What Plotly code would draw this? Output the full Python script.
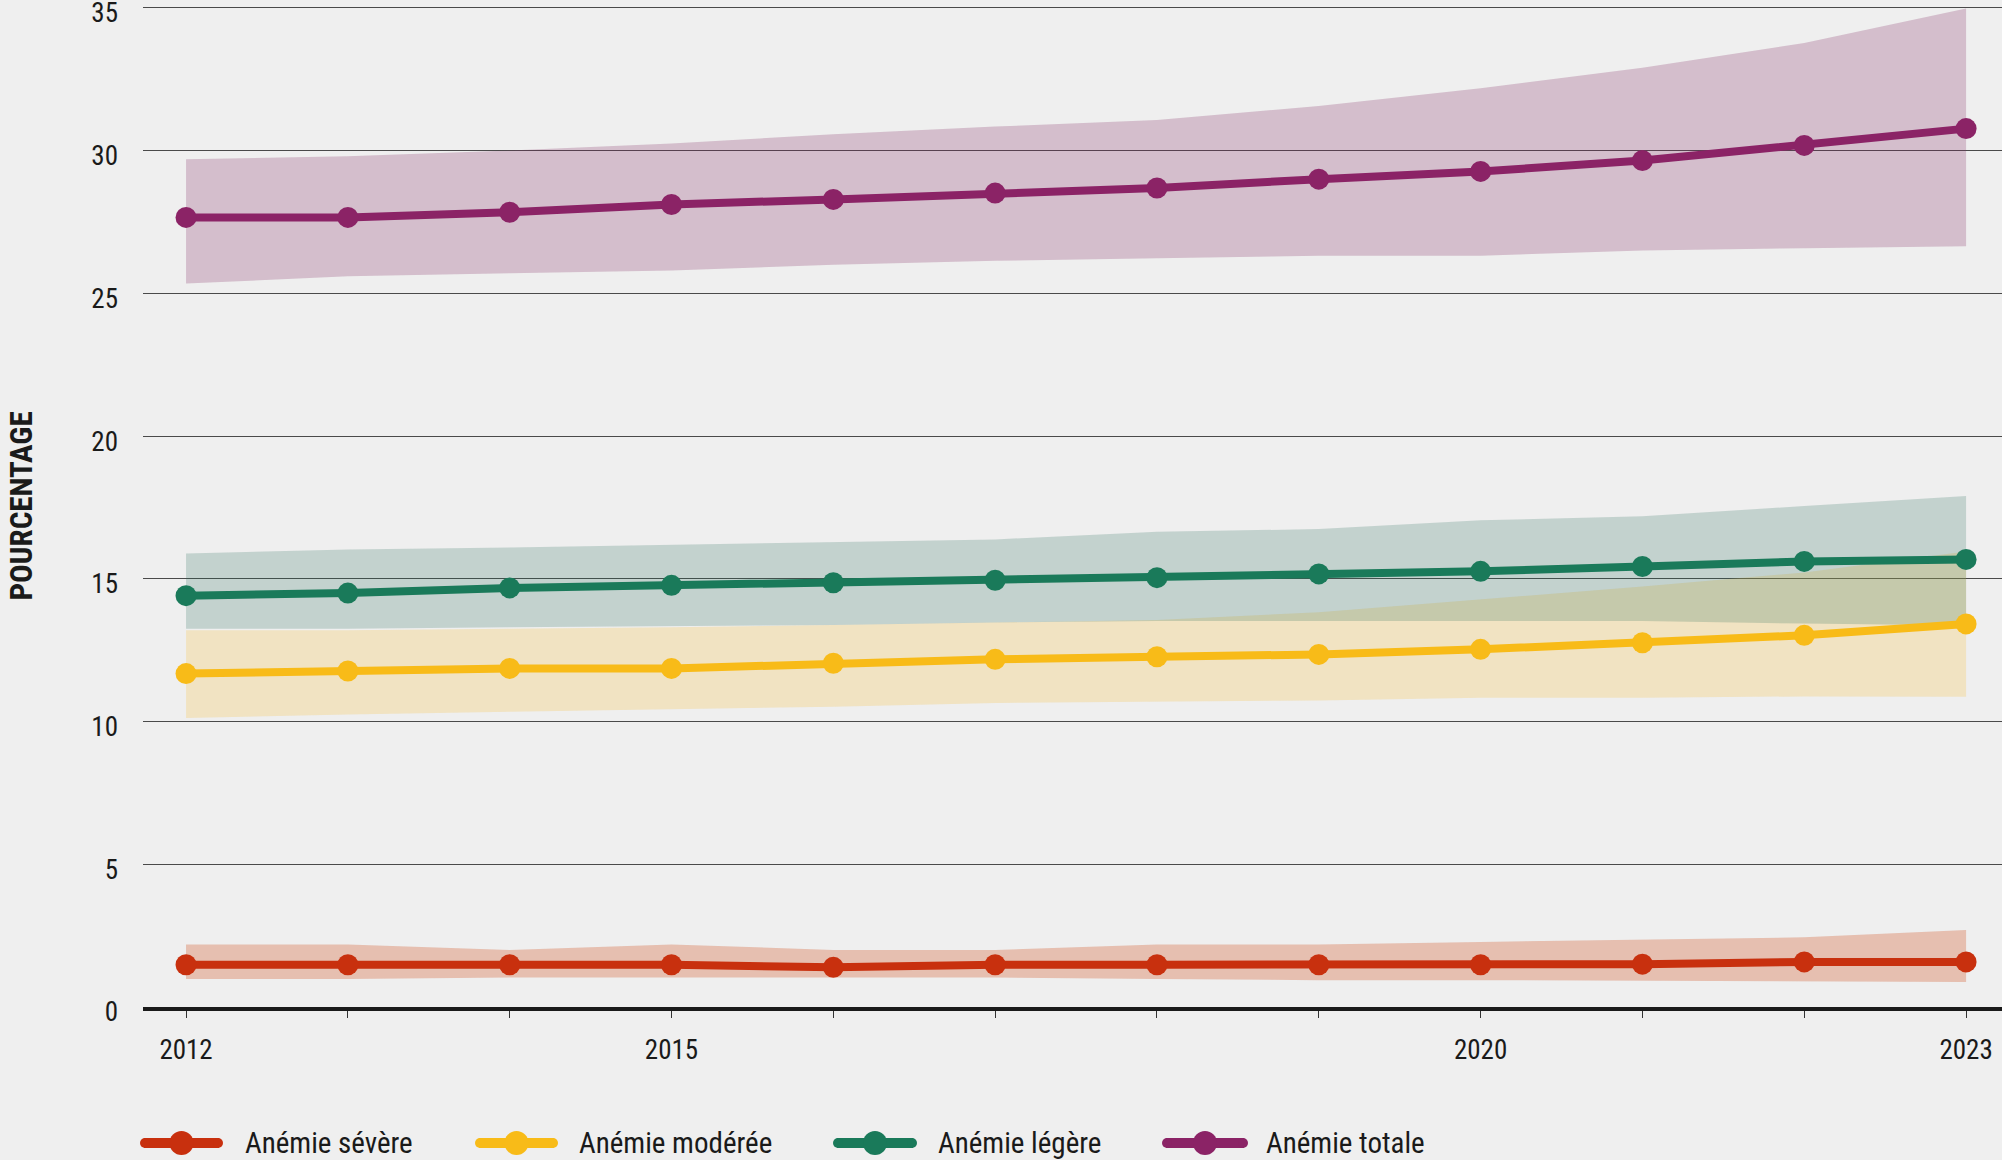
import plotly.graph_objects as go

years = [2012, 2013, 2014, 2015, 2016, 2017, 2018, 2019, 2020, 2021, 2022, 2023]

severe = [1.48, 1.48, 1.48, 1.48, 1.39, 1.48, 1.48, 1.48, 1.48, 1.50, 1.58, 1.58]
severe_hi = [2.19, 2.19, 2.00, 2.19, 2.00, 2.00, 2.19, 2.19, 2.28, 2.36, 2.44, 2.70]
severe_lo = [0.98, 0.98, 1.03, 1.03, 1.03, 1.03, 0.98, 0.94, 0.94, 0.92, 0.92, 0.88]

moderate = [11.68, 11.77, 11.86, 11.86, 12.04, 12.18, 12.27, 12.35, 12.53, 12.76, 13.02, 13.42]
moderate_hi = [13.20, 13.20, 13.25, 13.30, 13.38, 13.47, 13.56, 13.83, 14.28, 14.73, 15.22, 15.96]
moderate_lo = [10.12, 10.25, 10.34, 10.43, 10.52, 10.65, 10.70, 10.74, 10.83, 10.83, 10.88, 10.87]

mild = [14.41, 14.50, 14.68, 14.77, 14.86, 14.95, 15.04, 15.17, 15.26, 15.43, 15.61, 15.68]
mild_hi = [15.89, 16.03, 16.10, 16.20, 16.30, 16.38, 16.65, 16.74, 17.05, 17.19, 17.55, 17.90]
mild_lo = [13.25, 13.25, 13.30, 13.34, 13.38, 13.47, 13.52, 13.52, 13.52, 13.52, 13.43, 13.36]

total = [27.66, 27.66, 27.84, 28.11, 28.29, 28.51, 28.69, 29.00, 29.27, 29.65, 30.18, 30.77]
total_hi = [29.70, 29.80, 30.00, 30.25, 30.57, 30.84, 31.07, 31.56, 32.18, 32.90, 33.77, 34.98]
total_lo = [25.34, 25.60, 25.70, 25.80, 26.00, 26.14, 26.23, 26.32, 26.32, 26.50, 26.58, 26.65]

names = ["Anémie sévère", "Anémie modérée", "Anémie légère", "Anémie totale"]
line_colors = ["#c8300e", "#f8bb18", "#1a7a5a", "#8b2366"]
band_colors = ["rgba(210,80,30,0.30)", "rgba(248,190,60,0.25)",
               "rgba(40,110,90,0.22)", "rgba(130,45,100,0.25)"]

series = [
    (severe, severe_hi, severe_lo),
    (moderate, moderate_hi, moderate_lo),
    (mild, mild_hi, mild_lo),
    (total, total_hi, total_lo),
]

FONT = "Roboto Condensed, Liberation Sans Narrow, Roboto, sans-serif"
BG = "#efefef"

W, H = 2002, 1160
ML, MR, MT, MB = 143, 0, 5, 153
PW, PH = W - ML - MR, H - MT - MB


def px_x(p):
    return (p - ML) / PW


def px_y(p):
    return (H - MB - p) / PH


fig = go.Figure()

for (vals, hi, lo), bc in zip(series, band_colors):
    fig.add_trace(go.Scatter(x=years, y=hi, mode="lines", line=dict(width=0),
                             showlegend=False, hoverinfo="skip"))
    fig.add_trace(go.Scatter(x=years, y=lo, mode="lines", line=dict(width=0),
                             fill="tonexty", fillcolor=bc, showlegend=False,
                             hoverinfo="skip"))

for (vals, hi, lo), name, lc in zip(series, names, line_colors):
    fig.add_trace(go.Scatter(x=years, y=vals, mode="lines+markers", name=name,
                             line=dict(color=lc, width=8),
                             marker=dict(color=lc, size=21), showlegend=False))

# custom legend (layout decoration)
legend_items = [(140, 223, 243), (475, 558, 577), (833, 917, 936), (1162, 1248, 1264)]
leg_y = 1143
shapes = []
annotations = []
for (x0, x1, tx), name, lc in zip(legend_items, names, line_colors):
    shapes.append(dict(type="line", xref="paper", yref="paper",
                       x0=px_x(x0 + 4), x1=px_x(x1 - 4), y0=px_y(leg_y), y1=px_y(leg_y),
                       line=dict(color=lc, width=10), layer="above"))
    for ex in (x0 + 5, x1 - 5):
        shapes.append(dict(type="circle", xref="paper", yref="paper",
                           x0=px_x(ex - 5), x1=px_x(ex + 5),
                           y0=px_y(leg_y + 5), y1=px_y(leg_y - 5),
                           fillcolor=lc, line=dict(width=0), layer="above"))
    cx = (x0 + x1) / 2
    r = 12
    shapes.append(dict(type="circle", xref="paper", yref="paper",
                       x0=px_x(cx - r), x1=px_x(cx + r),
                       y0=px_y(leg_y + r), y1=px_y(leg_y - r),
                       fillcolor=lc, line=dict(width=0), layer="above"))
    annotations.append(dict(text=name, xref="paper", yref="paper",
                            x=px_x(tx), xanchor="left", y=px_y(leg_y), yanchor="middle",
                            showarrow=False,
                            font=dict(size=29, family=FONT, color="#1a1a1a")))

annotations.append(dict(text="<b>POURCENTAGE</b>", xref="paper", yref="paper",
                        x=px_x(0), xanchor="left", y=px_y(506), yanchor="middle",
                        textangle=-90, showarrow=False,
                        font=dict(size=31, family=FONT, color="#1a1a1a")))

tick_text = [str(y) if y in (2012, 2015, 2020, 2023) else "" for y in years]

fig.update_layout(
    width=W, height=H,
    paper_bgcolor=BG, plot_bgcolor=BG,
    margin=dict(l=ML, r=MR, t=MT, b=MB, autoexpand=False),
    font=dict(family=FONT, size=27, color="#1a1a1a"),
    showlegend=False,
    xaxis=dict(range=[2011.734, 2023.222], tickmode="array", tickvals=years,
               ticktext=tick_text, showgrid=False, zeroline=False,
               showline=True, linecolor="#1a1a1a", linewidth=4,
               ticks="outside", ticklen=7, tickwidth=1.2, tickcolor="#333333",
               ticklabelstandoff=9, ticklabeloverflow="allow", automargin=False,
               tickfont=dict(size=27, family=FONT)),
    yaxis=dict(range=[0, 35.1], tickvals=[0, 5, 10, 15, 20, 25, 30, 35],
               showgrid=True, gridcolor="#4a4a4a", gridwidth=1.2,
               zeroline=False, showline=False, ticks="",
               ticklabelstandoff=24, ticklabeloverflow="allow", automargin=False,
               ticklabelshift=5,
               tickfont=dict(size=27, family=FONT)),
    shapes=shapes,
    annotations=annotations,
)

fig.write_html("out.html", config={"displayModeBar": False},
               post_script="document.body.style.margin='0';document.body.style.padding='0';"
                           "document.body.style.background='#efefef';")
